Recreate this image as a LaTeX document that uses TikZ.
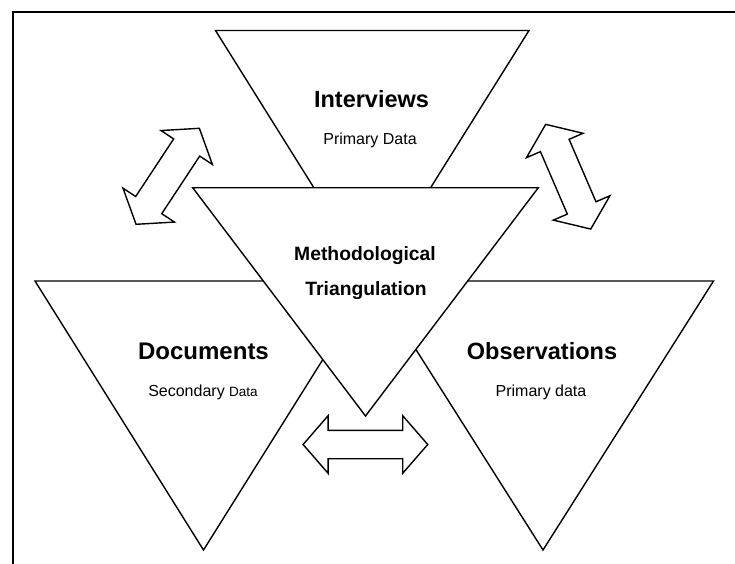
\documentclass[tikz,border=0pt]{standalone}
\usepackage{fontspec}
\setmainfont{Liberation Sans}
\begin{document}
\begin{tikzpicture}[x=1pt,y=-1pt,
  outline/.style={draw=black, line width=1.4pt, fill=white, line join=miter},
  frameline/.style={draw=black, line width=2.2pt},
  title/.style={font=\fontsize{23.5}{28}\selectfont\bfseries, anchor=base, inner sep=0pt},
  subtitle/.style={font=\fontsize{16}{19}\selectfont, anchor=base, inner sep=0pt},
  central/.style={font=\fontsize{19.3}{23}\selectfont\bfseries, anchor=base, inner sep=0pt},
  pics/dblarrow/.style n args={4}{code={
    % #1 half length, #2 half head width, #3 half shaft width, #4 head length
    \draw[outline] (-#1,0) -- (-#1+#4,#2) -- (-#1+#4,#3) -- (#1-#4,#3) -- (#1-#4,#2)
      -- (#1,0) -- (#1-#4,-#2) -- (#1-#4,-#3) -- (-#1+#4,-#3) -- (-#1+#4,-#2) -- cycle;
  }}]

\useasboundingbox (0,0) rectangle (735,563);

% open frame along the left and top
\draw[frameline] (13.3,570) -- (13.3,12.3) -- (745,12.3);

% outer triangles
\draw[outline] (215.5,30.5) -- (529,30.5) -- (372.2,281) -- cycle;
\draw[outline] (35,281) -- (372,281) -- (203.5,550) -- cycle;
\draw[outline] (372.5,281) -- (713.5,281) -- (543,550) -- cycle;

% central triangle on top
\draw[outline] (192.7,187.7) -- (538.3,187.7) -- (365.5,416) -- cycle;

% block double arrows
\pic[rotate=56.6] at (167.7,176.3) {dblarrow={57.5}{30.8}{15.6}{23}};
\pic[rotate=113.3] at (568.2,176.7) {dblarrow={57}{30.8}{15.6}{23}};
\pic at (365.4,444.5) {dblarrow={62.3}{28.8}{14.2}{25}};

% labels
\node[title] (interviews) at (371.5,107.3) {Interviews};
\node[subtitle] (intsub) at (370,144.8) {Primary Data};
\node[central] (method) at (365,260.5) {Methodological};
\node[central] (triang) at (366,295.5) {Triangulation};
\node[title, font=\fontsize{24}{28}\selectfont\bfseries] (documents) at (203.5,359.5) {Documents};
\node[subtitle] (docsub) at (203,396) {Secondary {\fontsize{13.5}{16}\selectfont Data}};
\node[title] (observations) at (542,359.5) {Observations};
\node[subtitle] (obssub) at (541,396) {Primary data};
\end{tikzpicture}
\end{document}
